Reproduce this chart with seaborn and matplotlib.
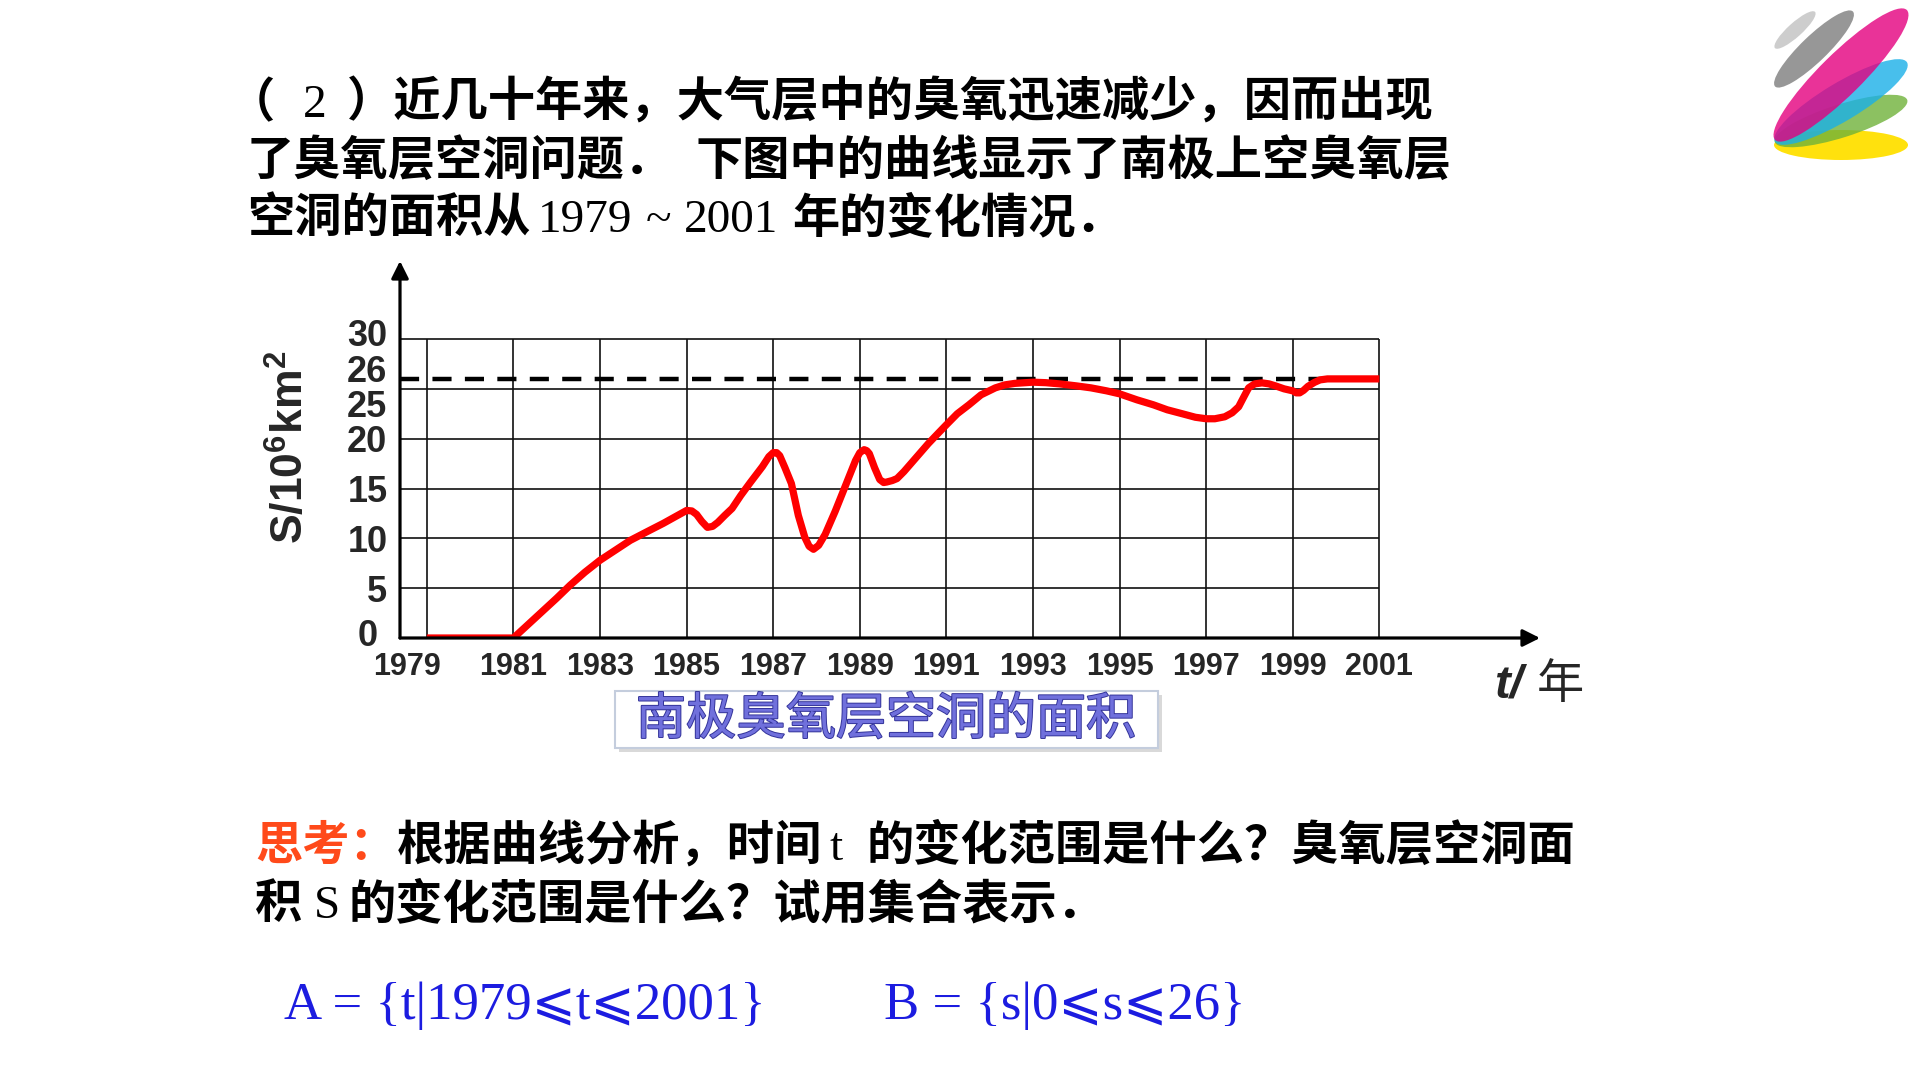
import matplotlib
matplotlib.use("Agg")
import matplotlib.pyplot as plt
import matplotlib.patheffects as pe
from matplotlib.patches import Ellipse, Rectangle
from matplotlib.transforms import ScaledTranslation
import seaborn as sns

sns.set_style("white")
plt.rcParams['font.family'] = ['Noto Sans CJK SC', 'DejaVu Sans']
plt.rcParams['mathtext.fontset'] = 'custom'
plt.rcParams['mathtext.bf'] = 'Liberation Sans:bold'
plt.rcParams['mathtext.rm'] = 'Liberation Sans:bold'
plt.rcParams['mathtext.default'] = 'bf'

# ozone hole area (10^6 km^2)
years = [1979, 1980, 1981, 1981.3, 1981.75, 1982.0, 1982.31, 1982.65, 1983, 1983.35,
         1983.7, 1984.1, 1984.46, 1984.75, 1985, 1985.12, 1985.23, 1985.35, 1985.48,
         1985.6, 1985.72, 1985.88, 1986.05, 1986.25, 1986.47, 1986.75, 1986.9, 1987,
         1987.08, 1987.15, 1987.27, 1987.42, 1987.58, 1987.73, 1987.83, 1987.93,
         1988.05, 1988.2, 1988.43, 1988.67, 1988.9, 1989.0, 1989.1, 1989.16, 1989.22,
         1989.34, 1989.46, 1989.55, 1989.62, 1989.75, 1989.86, 1990.02, 1990.3,
         1990.58, 1990.8, 1991, 1991.25, 1991.52, 1991.8, 1992.13, 1992.35, 1992.58,
         1993, 1993.3, 1993.61, 1994.0, 1994.34, 1994.7, 1995, 1995.4, 1995.78,
         1996.1, 1996.45, 1996.75, 1997, 1997.2, 1997.43, 1997.6, 1997.75, 1997.87,
         1997.98, 1998.12, 1998.29, 1998.45, 1998.6, 1998.8, 1999, 1999.08, 1999.16,
         1999.25, 1999.35, 1999.5, 1999.63, 1999.8, 2000.06, 2000.48, 2001]
area = [0, 0, 0, 1.2, 3.0, 4.0, 5.3, 6.6, 7.8, 8.8,
        9.8, 10.7, 11.5, 12.2, 12.8, 12.75, 12.4, 11.7, 11.1,
        11.2, 11.6, 12.3, 13.0, 14.3, 15.6, 17.2, 18.2, 18.6,
        18.6, 18.3, 17.1, 15.5, 12.3, 10.1, 9.2, 8.9,
        9.3, 10.4, 12.7, 15.3, 17.8, 18.6, 18.9, 18.8, 18.5,
        17.1, 15.9, 15.6, 15.65, 15.8, 16.0, 16.7, 18.1,
        19.5, 20.5, 21.4, 22.5, 23.4, 24.4, 25.1, 25.4, 25.55,
        25.67, 25.62, 25.5, 25.3, 25.1, 24.8, 24.5, 23.9, 23.4,
        22.9, 22.5, 22.15, 22.0, 22.0, 22.2, 22.6, 23.2, 24.2,
        25.1, 25.5, 25.6, 25.5, 25.3, 25.0, 24.8, 24.6, 24.6,
        24.85, 25.25, 25.65, 25.9, 26.0, 26.0, 26.0, 26.0]
year_ticks = list(range(1979, 2002, 2))
grid_levels = [5, 10, 15, 20, 25, 30]
area_ticks = [0, 5, 10, 15, 20, 25, 26, 30]
max_area = 26

title_1 = "近几十年来，大气层中的臭氧迅速减少，因而出现"
title_2a = "了臭氧层空洞问题．"
title_2b = "下图中的曲线显示了南极上空臭氧层"
title_3a = "空洞的面积从"
title_3b = "年的变化情况．"
caption = "南极臭氧层空洞的面积"
think = "思考："
q1a = "根据曲线分析，时间"
q1b = "的变化范围是什么？臭氧层空洞面"
q2a = "积"
q2b = "的变化范围是什么？试用集合表示．"
set_a = "A = {t|1979⩽t⩽2001}"
set_b = "B = {s|0⩽s⩽26}"

CJK = ['Noto Sans CJK SC', 'DejaVu Sans']
SERIF = ['Liberation Serif', 'DejaVu Serif', 'DejaVu Sans']
H = dict(family=CJK, fontsize=34, fontweight='black', color='black')
S = dict(family=SERIF, fontsize=34, color='black')

fig = plt.figure(figsize=(19.2, 10.8), dpi=100)
fig.patch.set_facecolor('white')

# full-figure overlay in pixel coordinates for the slide texts
bg = fig.add_axes([0, 0, 1, 1])
bg.set_xlim(0, 1920)
bg.set_ylim(1080, 0)
bg.axis('off')
bg.patch.set_alpha(0)

renderer = fig.canvas.get_renderer()


def put(x, y, parts):
    for p in parts:
        if isinstance(p, (int, float)):
            x += p
            continue
        s, style = p
        t = bg.text(x, y, s, ha='left', va='baseline', **style)
        x += t.get_window_extent(renderer).width


def shift(label, dx, dy):
    label.set_transform(label.get_transform()
                        + ScaledTranslation(dx / 100, dy / 100, fig.dpi_scale_trans))


# chart
ax = fig.add_axes([400 / 1920, (1080 - 638) / 1080, 1140 / 1920, 377 / 1080])
ax.set_xlim(1978.38, 2004.71)
ax.set_ylim(0, 37.83)
for sp in ax.spines.values():
    sp.set_visible(False)
x0 = ax.get_xlim()[0]

ax.hlines(grid_levels, x0, year_ticks[-1], colors='#111111', lw=1.2, zorder=1)
ax.vlines(year_ticks, 0, grid_levels[-1], colors='#111111', lw=1.2, zorder=1)
ax.hlines(max_area, x0, year_ticks[-1], colors='black', lw=3.2,
          linestyles=(0, (4.3, 3.0)), zorder=2)

sns.lineplot(x=years, y=area, ax=ax, color='#ff0000', linewidth=5.2,
             solid_joinstyle='round', solid_capstyle='butt', zorder=3)

arrow = dict(arrowstyle='-|>', lw=2.3, color='black', mutation_scale=26,
             shrinkA=0, shrinkB=0)
ax.annotate('', xy=(1, 0), xytext=(0, 0), xycoords='axes fraction', arrowprops=arrow)
ax.annotate('', xy=(0, 1), xytext=(0, 0), xycoords='axes fraction', arrowprops=arrow)

ax.set_xticks(year_ticks, labels=[str(y) for y in year_ticks])
ax.set_yticks(area_ticks, labels=[str(v) for v in area_ticks])
ax.tick_params(axis='both', length=0)
ax.tick_params(axis='x', pad=10)
ax.tick_params(axis='y', pad=9)
for lab in ax.get_xticklabels():
    lab.set_fontfamily('Liberation Sans')
    lab.set_fontweight('bold')
    lab.set_fontsize(22)
for lab in ax.get_yticklabels():
    lab.set_fontfamily('Liberation Sans')
    lab.set_fontweight('bold')
    lab.set_fontsize(26)
xl = ax.get_xticklabels()
shift(xl[0], -20, 0)
yl = ax.get_yticklabels()
shift(yl[0], -10, 5)
shift(yl[5], 0, -15)
shift(yl[6], 0, 10)
shift(yl[7], 0, 7)

bg.text(291, 447, r'S/10$^{6}$km$^{2}$', rotation=90, ha='center', va='center',
        fontsize=32, fontweight='bold', family='Liberation Sans')
put(1494, 698, [("t/", dict(family='Liberation Sans', fontsize=34, fontweight='bold',
                             style='italic')), 14,
                ("年", dict(family=CJK, fontsize=34))])

# caption box
bg.add_patch(Rectangle((619, 695), 543, 57, facecolor='#d9d9d9', edgecolor='none', zorder=1))
bg.add_patch(Rectangle((615, 691), 543, 57, facecolor='white', edgecolor='#c4cddd',
                       lw=1.5, zorder=2))
bg.text(886, 720, caption, ha='center', va='center', fontsize=36, color='#7070dc',
        family=CJK, zorder=3,
        path_effects=[pe.withStroke(linewidth=1.4, foreground='#34349a')])

# slide text
put(228, 117, [("（", H), 28, ("2", S), 20, ("）" + title_1, H)])
put(247, 175, [(title_2a, H), 23, (title_2b, H)])
put(247, 232, [(title_3a, H), 7, ("1979", S), 14, ("~", S), 12, ("2001", S), 14,
               (title_3b, H)])

put(255, 860, [(think, dict(H, color='#ff4a1a')), (q1a, H), 7, ("t", S), 24, (q1b, H)])
put(255, 918, [(q2a, H), 12, ("S", S), 8, (q2b, H)])

SET = dict(family=SERIF, fontsize=38, color='#1c1ce0')
put(284, 1019, [(set_a, SET)])
put(884, 1019, [(set_b, SET)])

# logo
logo = [((1841, 145), 134, 30, 0, '#ffe000', 0.95),
        ((1841, 121), 139, 33, -17.6, '#6fb23a', 0.8),
        ((1841, 102), 154, 38, -31, '#1ab0e8', 0.8),
        ((1841, 75), 185, 42, -44.6, '#e4007f', 0.8),
        ((1814, 49), 108, 26, -43.9, '#8c8c8c', 0.9),
        ((1795, 30), 54, 14, -42, '#c8c8c8', 0.9)]
for c, w, h, a, col, al in logo:
    bg.add_patch(Ellipse(c, w, h, angle=a, facecolor=col, edgecolor='none', alpha=al))

fig.savefig('out.png', dpi=100)
